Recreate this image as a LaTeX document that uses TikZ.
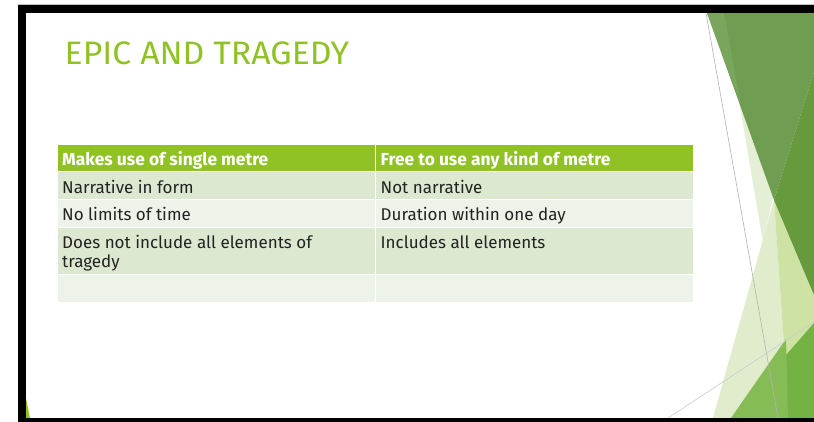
\documentclass[tikz,border=0pt]{standalone}
\usepackage{fontspec}
\setmainfont{Fira Sans}
\usepackage{graphicx}
\definecolor{facet}{HTML}{90C226}
\definecolor{bandA}{HTML}{DDE8D0}
\definecolor{bandB}{HTML}{EEF3E9}
\definecolor{txt}{HTML}{222222}
\definecolor{leafA}{HTML}{6F9D51}
\definecolor{leafL}{HTML}{79A55D}
\definecolor{leafB}{HTML}{679A3D}
\definecolor{paleA}{HTML}{E5EFD6}
\definecolor{paleB}{HTML}{E0ECCC}
\definecolor{paleC}{HTML}{CDE2A3}
\definecolor{brightG}{HTML}{74B243}
\definecolor{brightL}{HTML}{86BC55}
\tikzset{
  cell/.style={anchor=base west,inner sep=0pt,text=txt,font=\fontsize{17}{20}\selectfont},
  head/.style={cell,text=white,font=\fontsize{17.4}{20}\selectfont\bfseries},
  rim/.style={draw=black!30,line width=0.6pt}
}
\begin{document}
\begin{tikzpicture}[x=1pt,y=-1pt]
\useasboundingbox (0,0) rectangle (814,422);
\fill[white] (0,0) rectangle (814,422);
\draw[black!25,line width=0.8pt] (18,4.6)--(814,4.6);
%right side facets
\fill[paleB] (774,200)--(713,418)--(789,418)--cycle;
\fill[paleC] (774,200)--(814,262)--(814,418)--(789,418)--cycle;
\fill[paleA] (724,13)--(814,13)--(763,242)--cycle;
\fill[leafA] (707,13)--(814,13)--(814,72)--(774,200)--cycle;
\fill[leafL] (707,13)--(724,13)--(741,105)--cycle;
\fill[leafB] (814,72)--(774,200)--(814,295)--cycle;
\fill[brightG] (814,323)--(731,418)--(814,418)--cycle;
\fill[brightL] (786,339)--(788,418)--(731,418)--cycle;
\coordinate (ga) at (706,13);
\coordinate (gb) at (778,418);
\coordinate (gc) at (814,322);
\coordinate (gd) at (668,418);
\draw[black!30,line width=0.6pt] (ga)--(gb);
\draw[black!20,line width=0.6pt] (gc)--(gd);
\fill[facet] (26,398)--(30,418)--(26,418)--cycle;
%frame
\fill[black] (18,5) rectangle (814,13);
\fill[black] (18,5) rectangle (26,422);
\fill[black] (18,418) rectangle (814,422);
%title
\node[anchor=base west,inner sep=0pt,text=facet,font=\fontsize{32.5}{36}\selectfont] (title) at (64.5,65) {\scalebox{1.04}[1]{EPIC AND TRAGEDY}};
%table
\fill[facet] (57.5,145) rectangle (374.5,171.5);
\fill[facet] (375.5,145) rectangle (693,171.5);
\fill[bandA] (57.5,172.5) rectangle (374.5,199.5);
\fill[bandA] (375.5,172.5) rectangle (693,199.5);
\fill[bandB] (57.5,200.5) rectangle (374.5,227.5);
\fill[bandB] (375.5,200.5) rectangle (693,227.5);
\fill[bandA] (57.5,228.5) rectangle (374.5,274);
\fill[bandA] (375.5,228.5) rectangle (693,274);
\fill[bandB] (57.5,275) rectangle (374.5,302);
\fill[bandB] (375.5,275) rectangle (693,302);
\node[head] (h1) at (62,166) {Makes use of single metre};
\node[head] (h2) at (380.5,166) {Free to use any kind of metre};
\node[cell] (a1) at (62,193.3) {Narrative in form};
\node[cell] (b1) at (380.5,193.3) {Not narrative};
\node[cell] (a2) at (62,221) {No limits of time};
\node[cell] (b2) at (380.5,221) {Duration within one day};
\node[cell] (a3) at (62,248.3) {Does not include all elements of};
\node[cell] (a3b) at (62,267.5) {tragedy};
\node[cell] (b3) at (380.5,248.3) {Includes all elements};
\end{tikzpicture}
\end{document}
